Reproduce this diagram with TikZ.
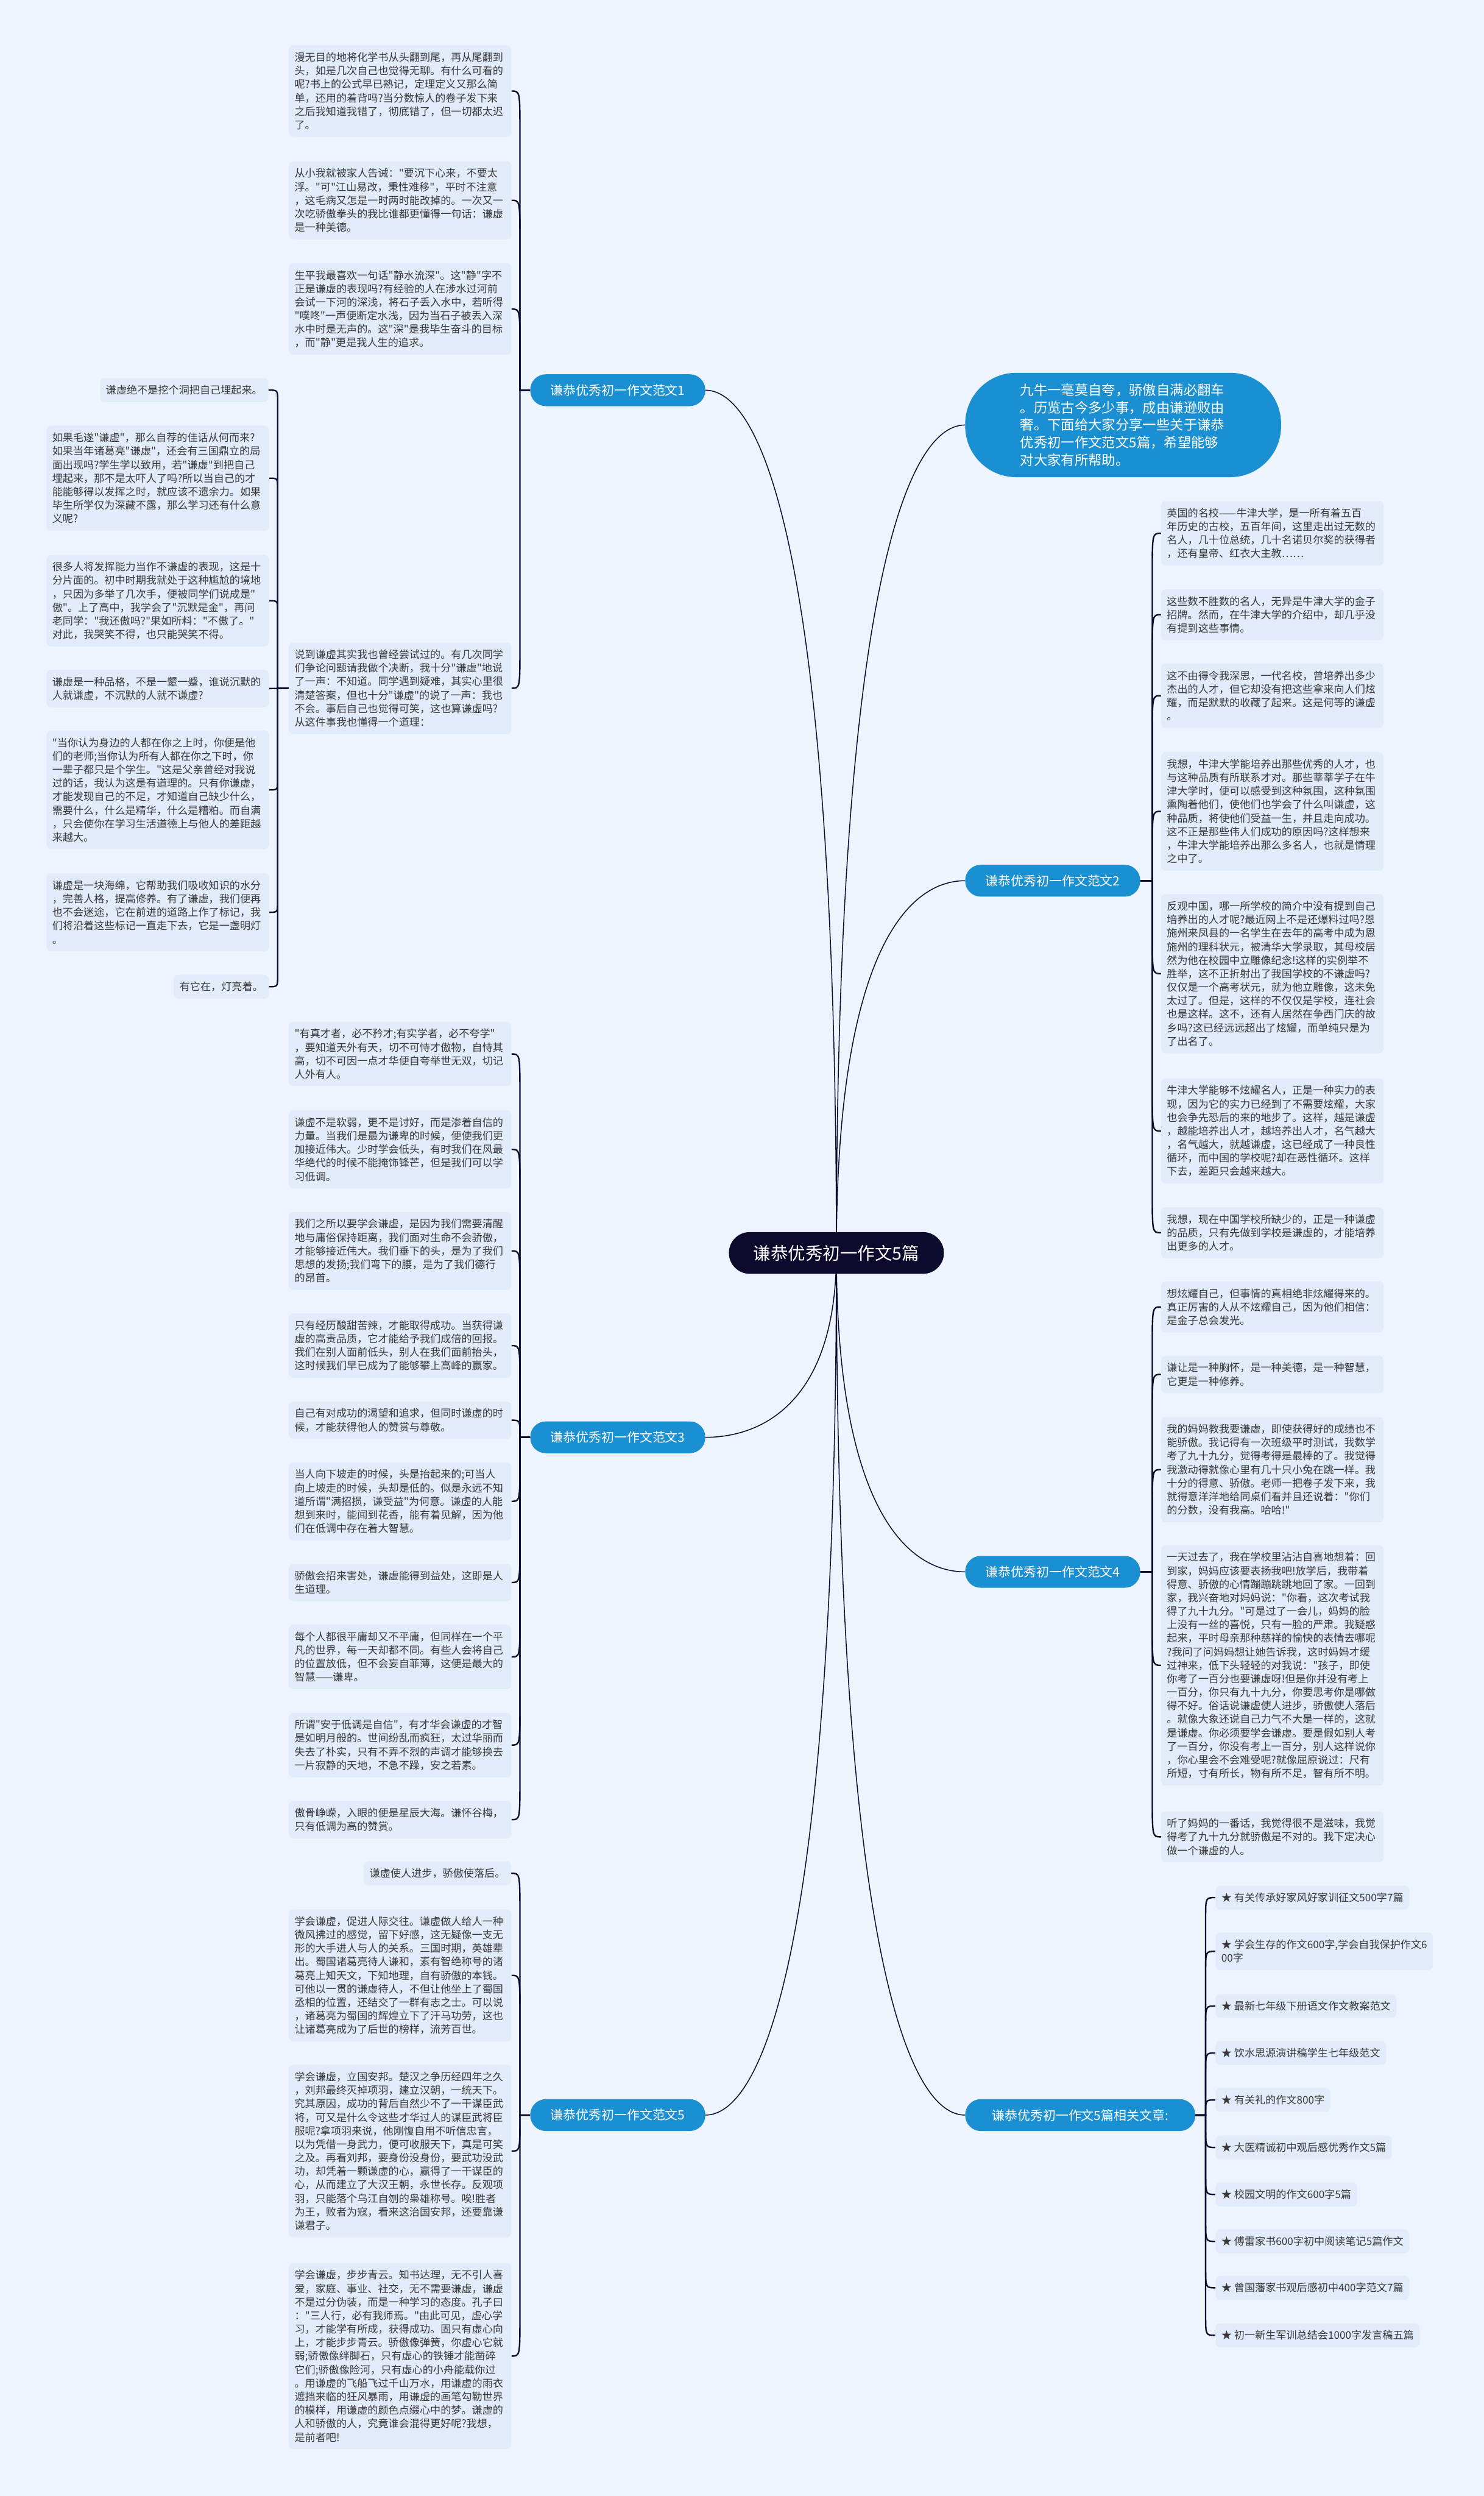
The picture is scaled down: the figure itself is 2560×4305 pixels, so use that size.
\documentclass[tikz,border=0pt]{standalone}
\usepackage{fontspec}
\setmainfont{Noto Sans CJK SC}
\newfontfamily\cjkf{Noto Sans CJK SC}
\usetikzlibrary{calc}
\definecolor{bgc}{RGB}{238,244,253}
\definecolor{boxc}{RGB}{226,235,250}
\definecolor{txtc}{RGB}{55,55,55}
\definecolor{brc}{RGB}{26,143,210}
\definecolor{rootc}{RGB}{12,10,45}
\definecolor{linec}{RGB}{14,12,46}
\pgfdeclarelayer{bgl}
\pgfsetlayers{bgl,main}
\newcommand\bx[5]{\node[txt,minimum height={23.3*#4+18}] (#1) at (#2,#3) {#5};}
\newcommand\cl[6]{\draw[cn] (#1.#2) -- (#3 |- #1.#2) -- ($(#3 |- #4.#5)+(0,#6)$) .. controls (#3 |- #4.#5) .. (#4.#5);}
\newcommand\mcurve[4]{\draw[mc] (root.center) .. controls ($(root.center)+(0,#3)$) and ($(#1)+(#4,0)$) .. (#1);}
\begin{document}
\begin{tikzpicture}[x=1pt,y=-1pt,
  txt/.style={fill=boxc, rounded corners=8pt, anchor=north west, align=left, text=txtc, font=\cjkf\fontsize{18}{23.3}\selectfont, inner xsep=10pt, inner ysep=4pt, text width=364pt},
  sbox/.style={fill=boxc, rounded corners=8pt, anchor=north east, text=txtc, font=\cjkf\fontsize{18}{23.3}\selectfont, inner xsep=10pt, inner ysep=4pt, minimum height=41.3pt},
  rbox/.style={fill=boxc, rounded corners=8pt, anchor=north west, align=left, text=txtc, font=\cjkf\fontsize{18}{23.3}\selectfont, inner xsep=10pt, inner ysep=4pt},
  brn/.style={fill=brc, text=white, rounded corners=27pt, minimum height=55pt, minimum width=302pt, font=\cjkf\fontsize{22}{26}\selectfont, inner xsep=20pt},
  cn/.style={draw=linec, line width=2.5pt},
  mc/.style={draw=linec, line width=1.6pt}]

% ---------- root, blurb and branches ----------
\node[fill=rootc, text=white, rounded corners=36pt, minimum width=371pt, minimum height=72pt, font=\cjkf\fontsize{30}{34}\selectfont] (root) at (1443,2161) {谦恭优秀初一作文5篇};
\node[fill=brc, text=white, rounded corners=88pt, anchor=west, minimum height=180pt, text width=355pt, inner xsep=95pt, align=left, font=\cjkf\fontsize{23.5}{30}\selectfont] (blurb) at (1665,733) {九牛一毫莫自夸，骄傲自满必翻车\\。历览古今多少事，成由谦逊败由\\奢。下面给大家分享一些关于谦恭\\优秀初一作文范文5篇，希望能够\\对大家有所帮助。};
\node[brn, anchor=east] (b1) at (1217,673) {谦恭优秀初一作文范文1};
\node[brn, anchor=west] (b2) at (1665,1519) {谦恭优秀初一作文范文2};
\node[brn, anchor=east] (b3) at (1217,2479) {谦恭优秀初一作文范文3};
\node[brn, anchor=west] (b4) at (1665,2711) {谦恭优秀初一作文范文4};
\node[brn, anchor=east] (b5) at (1217,3648) {谦恭优秀初一作文范文5};
\node[brn, anchor=west, minimum width=397pt] (rel) at (1665,3648) {谦恭优秀初一作文5篇相关文章:};

% ---------- section 1 ----------
\bx{a1}{498}{78}{6}{漫无目的地将化学书从头翻到尾，再从尾翻到\\头，如是几次自己也觉得无聊。有什么可看的\\呢?书上的公式早已熟记，定理定义又那么简\\单，还用的着背吗?当分数惊人的卷子发下来\\之后我知道我错了，彻底错了，但一切都太迟\\了。}
\bx{a2}{498}{278}{5}{从小我就被家人告诫："要沉下心来，不要太\\浮。"可"江山易改，秉性难移"，平时不注意\\，这毛病又怎是一时两时能改掉的。一次又一\\次吃骄傲拳头的我比谁都更懂得一句话：谦虚\\是一种美德。}
\bx{a3}{498}{454}{6}{生平我最喜欢一句话"静水流深"。这"静"字不\\正是谦虚的表现吗?有经验的人在涉水过河前\\会试一下河的深浅，将石子丢入水中，若听得\\"噗咚"一声便断定水浅，因为当石子被丢入深\\水中时是无声的。这"深"是我毕生奋斗的目标\\，而"静"更是我人生的追求。}
\bx{a4}{498}{1108}{6}{说到谦虚其实我也曾经尝试过的。有几次同学\\们争论问题请我做个决断，我十分"谦虚"地说\\了一声：不知道。同学遇到疑难，其实心里很\\清楚答案，但也十分"谦虚"的说了一声：我也\\不会。事后自己也觉得可笑，这也算谦虚吗?\\从这件事我也懂得一个道理：}

\node[sbox] (l1) at (463,652) {谦虚绝不是挖个洞把自己埋起来。};
\bx{l2}{80}{734}{7}{如果毛遂"谦虚"，那么自荐的佳话从何而来?\\如果当年诸葛亮"谦虚"，还会有三国鼎立的局\\面出现吗?学生学以致用，若"谦虚"到把自己\\埋起来，那不是太吓人了吗?所以当自己的才\\能能够得以发挥之时，就应该不遗余力。如果\\毕生所学仅为深藏不露，那么学习还有什么意\\义呢?}
\bx{l3}{80}{957}{6}{很多人将发挥能力当作不谦虚的表现，这是十\\分片面的。初中时期我就处于这种尴尬的境地\\，只因为多举了几次手，便被同学们说成是"\\傲"。上了高中，我学会了"沉默是金"，再问\\老同学："我还傲吗?"果如所料："不傲了。"\\对此，我哭笑不得，也只能哭笑不得。}
\bx{l4}{80}{1155}{2}{谦虚是一种品格，不是一颦一蹙，谁说沉默的\\人就谦虚，不沉默的人就不谦虚?}
\bx{l5}{80}{1260}{8}{"当你认为身边的人都在你之上时，你便是他\\们的老师;当你认为所有人都在你之下时，你\\一辈子都只是个学生。"这是父亲曾经对我说\\过的话，我认为这是有道理的。只有你谦虚，\\才能发现自己的不足，才知道自己缺少什么，\\需要什么，什么是精华，什么是糟粕。而自满\\，只会使你在学习生活道德上与他人的差距越\\来越大。}
\bx{l6}{80}{1506}{5}{谦虚是一块海绵，它帮助我们吸收知识的水分\\，完善人格，提高修养。有了谦虚，我们便再\\也不会迷途，它在前进的道路上作了标记，我\\们将沿着这些标记一直走下去，它是一盏明灯\\。}
\node[sbox] (l7) at (464,1681) {有它在，灯亮着。};

% ---------- section 3 ----------
\bx{c1}{498}{1762}{4}{"有真才者，必不矜才;有实学者，必不夸学"\\，要知道天外有天，切不可恃才傲物，自恃其\\高，切不可因一点才华便自夸举世无双，切记\\人外有人。}
\bx{c2}{498}{1915}{5}{谦虚不是软弱，更不是讨好，而是渗着自信的\\力量。当我们是最为谦卑的时候，便使我们更\\加接近伟大。少时学会低头，有时我们在风最\\华绝代的时候不能掩饰锋芒，但是我们可以学\\习低调。}
\bx{c3}{498}{2090}{5}{我们之所以要学会谦虚，是因为我们需要清醒\\地与庸俗保持距离，我们面对生命不会骄傲，\\才能够接近伟大。我们垂下的头，是为了我们\\思想的发扬;我们弯下的腰，是为了我们德行\\的昂首。}
\bx{c4}{498}{2265}{4}{只有经历酸甜苦辣，才能取得成功。当获得谦\\虚的高贵品质，它才能给予我们成倍的回报。\\我们在别人面前低头，别人在我们面前抬头，\\这时候我们早已成为了能够攀上高峰的赢家。}
\bx{c5}{498}{2417}{2}{自己有对成功的渴望和追求，但同时谦虚的时\\候，才能获得他人的赞赏与尊敬。}
\bx{c6}{498}{2522}{5}{当人向下坡走的时候，头是抬起来的;可当人\\向上坡走的时候，头却是低的。似是永远不知\\道所谓"满招损，谦受益"为何意。谦虚的人能\\想到来时，能闻到花香，能有着见解，因为他\\们在低调中存在着大智慧。}
\bx{c7}{498}{2697}{2}{骄傲会招来害处，谦虚能得到益处，这即是人\\生道理。}
\bx{c8}{498}{2802}{4}{每个人都很平庸却又不平庸，但同样在一个平\\凡的世界，每一天却都不同。有些人会将自己\\的位置放低，但不会妄自菲薄，这便是最大的\\智慧——谦卑。}
\bx{c9}{498}{2954}{4}{所谓"安于低调是自信"，有才华会谦虚的才智\\是如明月般的。世间纷乱而疯狂，太过华丽而\\失去了朴实，只有不弄不烈的声调才能够换去\\一片寂静的天地，不急不躁，安之若素。}
\bx{c10}{498}{3106}{2}{傲骨峥嵘，入眼的便是星辰大海。谦怀谷梅，\\只有低调为高的赞赏。}

% ---------- section 5 ----------
\node[sbox] (e1) at (882,3210) {谦虚使人进步，骄傲使落后。};
\bx{e2}{498}{3293}{9}{学会谦虚，促进人际交往。谦虚做人给人一种\\微风拂过的感觉，留下好感，这无疑像一支无\\形的大手进人与人的关系。三国时期，英雄辈\\出。蜀国诸葛亮待人谦和，素有智绝称号的诸\\葛亮上知天文，下知地理，自有骄傲的本钱。\\可他以一贯的谦虚待人，不但让他坐上了蜀国\\丞相的位置，还结交了一群有志之士。可以说\\，诸葛亮为蜀国的辉煌立下了汗马功劳，这也\\让诸葛亮成为了后世的榜样，流芳百世。}
\bx{e3}{498}{3561}{12}{学会谦虚，立国安邦。楚汉之争历经四年之久\\，刘邦最终灭掉项羽，建立汉朝，一统天下。\\究其原因，成功的背后自然少不了一干谋臣武\\将，可又是什么令这些才华过人的谋臣武将臣\\服呢?拿项羽来说，他刚愎自用不听信忠言，\\以为凭借一身武力，便可收服天下，真是可笑\\之及。再看刘邦，要身份没身份，要武功没武\\功，却凭着一颗谦虚的心，赢得了一干谋臣的\\心，从而建立了大汉王朝，永世长存。反观项\\羽，只能落个乌江自刎的枭雄称号。唉!胜者\\为王，败者为寇，看来这治国安邦，还要靠谦\\谦君子。}
\bx{e4}{498}{3903}{13}{学会谦虚，步步青云。知书达理，无不引人喜\\爱，家庭、事业、社交，无不需要谦虚，谦虚\\不是过分伪装，而是一种学习的态度。孔子曰\\："三人行，必有我师焉。"由此可见，虚心学\\习，才能学有所成，获得成功。固只有虚心向\\上，才能步步青云。骄傲像弹簧，你虚心它就\\弱;骄傲像绊脚石，只有虚心的铁锤才能凿碎\\它们;骄傲像险河，只有虚心的小舟能载你过\\。用谦虚的飞船飞过千山万水，用谦虚的雨衣\\遮挡来临的狂风暴雨，用谦虚的画笔勾勒世界\\的模样，用谦虚的颜色点缀心中的梦。谦虚的\\人和骄傲的人，究竟谁会混得更好呢?我想，\\是前者吧!}

% ---------- section 2 ----------
\bx{r1}{2003}{864}{4}{英国的名校——牛津大学，是一所有着五百\\年历史的古校，五百年间，这里走出过无数的\\名人，几十位总统，几十名诺贝尔奖的获得者\\，还有皇帝、红衣大主教……}
\bx{r2}{2003}{1016}{3}{这些数不胜数的名人，无异是牛津大学的金子\\招牌。然而，在牛津大学的介绍中，却几乎没\\有提到这些事情。}
\bx{r3}{2003}{1144}{4}{这不由得令我深思，一代名校，曾培养出多少\\杰出的人才，但它却没有把这些拿来向人们炫\\耀，而是默默的收藏了起来。这是何等的谦虚\\。}
\bx{r4}{2003}{1297}{8}{我想，牛津大学能培养出那些优秀的人才，也\\与这种品质有所联系才对。那些莘莘学子在牛\\津大学时，便可以感受到这种氛围，这种氛围\\熏陶着他们，使他们也学会了什么叫谦虚，这\\种品质，将使他们受益一生，并且走向成功。\\这不正是那些伟人们成功的原因吗?这样想来\\，牛津大学能培养出那么多名人，也就是情理\\之中了。}
\bx{r5}{2003}{1542}{11}{反观中国，哪一所学校的简介中没有提到自己\\培养出的人才呢?最近网上不是还爆料过吗?恩\\施州来凤县的一名学生在去年的高考中成为恩\\施州的理科状元，被清华大学录取，其母校居\\然为他在校园中立雕像纪念!这样的实例举不\\胜举，这不正折射出了我国学校的不谦虚吗?\\仅仅是一个高考状元，就为他立雕像，这未免\\太过了。但是，这样的不仅仅是学校，连社会\\也是这样。这不，还有人居然在争西门庆的故\\乡吗?这已经远远超出了炫耀，而单纯只是为\\了出名了。}
\bx{r6}{2003}{1860}{7}{牛津大学能够不炫耀名人，正是一种实力的表\\现，因为它的实力已经到了不需要炫耀，大家\\也会争先恐后的来的地步了。这样，越是谦虚\\，越能培养出人才，越培养出人才，名气越大\\，名气越大，就越谦虚，这已经成了一种良性\\循环，而中国的学校呢?却在恶性循环。这样\\下去，差距只会越来越大。}
\bx{r7}{2003}{2082}{3}{我想，现在中国学校所缺少的，正是一种谦虚\\的品质，只有先做到学校是谦虚的，才能培养\\出更多的人才。}

% ---------- section 4 ----------
\bx{f1}{2003}{2210}{3}{想炫耀自己，但事情的真相绝非炫耀得来的。\\真正厉害的人从不炫耀自己，因为他们相信：\\是金子总会发光。}
\bx{f2}{2003}{2338}{2}{谦让是一种胸怀，是一种美德，是一种智慧，\\它更是一种修养。}
\bx{f3}{2003}{2444}{7}{我的妈妈教我要谦虚，即使获得好的成绩也不\\能骄傲。我记得有一次班级平时测试，我数学\\考了九十九分，觉得考得是最棒的了。我觉得\\我激动得就像心里有几十只小兔在跳一样。我\\十分的得意、骄傲。老师一把卷子发下来，我\\就得意洋洋地给同桌们看并且还说着："你们\\的分数，没有我高。哈哈!"}
\bx{f4}{2003}{2665}{17}{一天过去了，我在学校里沾沾自喜地想着：回\\到家，妈妈应该要表扬我吧!放学后，我带着\\得意、骄傲的心情蹦蹦跳跳地回了家。一回到\\家，我兴奋地对妈妈说："你看，这次考试我\\得了九十九分。"可是过了一会儿，妈妈的脸\\上没有一丝的喜悦，只有一脸的严肃。我疑惑\\起来，平时母亲那种慈祥的愉快的表情去哪呢\\?我问了问妈妈想让她告诉我，这时妈妈才缓\\过神来，低下头轻轻的对我说："孩子，即使\\你考了一百分也要谦虚呀!但是你并没有考上\\一百分，你只有九十九分，你要思考你是哪做\\得不好。俗话说谦虚使人进步，骄傲使人落后\\。就像大象还说自己力气不大是一样的，这就\\是谦虚。你必须要学会谦虚。要是假如别人考\\了一百分，你没有考上一百分，别人这样说你\\，你心里会不会难受呢?就像屈原说过：尺有\\所短，寸有所长，物有所不足，智有所不明。}
\bx{f5}{2003}{3124}{3}{听了妈妈的一番话，我觉得很不是滋味，我觉\\得考了九十九分就骄傲是不对的。我下定决心\\做一个谦虚的人。}

% ---------- related articles ----------
\node[rbox, minimum height=41.3pt] (q1) at (2097,3252) {★ 有关传承好家风好家训征文500字7篇};
\node[rbox, minimum height=64.6pt] (q2) at (2097,3333) {★ 学会生存的作文600字,学会自我保护作文6\\00字};
\node[rbox, minimum height=41.3pt] (q3) at (2097,3439) {★ 最新七年级下册语文作文教案范文};
\node[rbox, minimum height=41.3pt] (q4) at (2097,3520) {★ 饮水思源演讲稿学生七年级范文};
\node[rbox, minimum height=41.3pt] (q5) at (2097,3601) {★ 有关礼的作文800字};
\node[rbox, minimum height=41.3pt] (q6) at (2097,3683) {★ 大医精诚初中观后感优秀作文5篇};
\node[rbox, minimum height=41.3pt] (q7) at (2097,3764) {★ 校园文明的作文600字5篇};
\node[rbox, minimum height=41.3pt] (q8) at (2097,3845) {★ 傅雷家书600字初中阅读笔记5篇作文};
\node[rbox, minimum height=41.3pt] (q9) at (2097,3925) {★ 曾国藩家书观后感初中400字范文7篇};
\node[rbox, minimum height=41.3pt] (q10) at (2097,4007) {★ 初一新生军训总结会1000字发言稿五篇};

% trunk coordinates
\coordinate (tL) at (897,0);
\coordinate (tC) at (479,0);
\coordinate (tR) at (1988,0);
\coordinate (tQ) at (2080,0);

\begin{pgfonlayer}{bgl}
\fill[bgc] (0,0) rectangle (2560,4305);
% root to branches
\mcurve{b1.east}{}{-1190}{100}
\mcurve{b3.east}{}{255}{100}
\mcurve{b5.east}{}{1190}{100}
\mcurve{blurb.west}{}{-1140}{-100}
\mcurve{b2.west}{}{-515}{-100}
\mcurve{b4.west}{}{440}{-100}
\mcurve{rel.west}{}{1190}{-100}
% section 1
\cl{b1}{west}{tL}{a1}{east}{70}
\cl{b1}{west}{tL}{a2}{east}{70}
\cl{b1}{west}{tL}{a3}{east}{70}
\cl{b1}{west}{tL}{a4}{east}{-70}
\cl{a4}{west}{tC}{l1}{east}{18}
\cl{a4}{west}{tC}{l2}{east}{18}
\cl{a4}{west}{tC}{l3}{east}{18}
\draw[cn] (a4.west) -- (l4.east);
\cl{a4}{west}{tC}{l5}{east}{-18}
\cl{a4}{west}{tC}{l6}{east}{-18}
\cl{a4}{west}{tC}{l7}{east}{-18}
% section 3
\cl{b3}{west}{tL}{c1}{east}{70}
\cl{b3}{west}{tL}{c2}{east}{70}
\cl{b3}{west}{tL}{c3}{east}{70}
\cl{b3}{west}{tL}{c4}{east}{70}
\cl{b3}{west}{tL}{c5}{east}{25}
\cl{b3}{west}{tL}{c6}{east}{-70}
\cl{b3}{west}{tL}{c7}{east}{-70}
\cl{b3}{west}{tL}{c8}{east}{-70}
\cl{b3}{west}{tL}{c9}{east}{-70}
\cl{b3}{west}{tL}{c10}{east}{-70}
% section 5
\cl{b5}{west}{tL}{e1}{east}{70}
\cl{b5}{west}{tL}{e2}{east}{70}
\cl{b5}{west}{tL}{e3}{east}{-55}
\cl{b5}{west}{tL}{e4}{east}{-70}
% section 2
\cl{b2}{east}{tR}{r1}{west}{70}
\cl{b2}{east}{tR}{r2}{west}{70}
\cl{b2}{east}{tR}{r3}{west}{70}
\cl{b2}{east}{tR}{r4}{west}{70}
\cl{b2}{east}{tR}{r5}{west}{-70}
\cl{b2}{east}{tR}{r6}{west}{-70}
\cl{b2}{east}{tR}{r7}{west}{-70}
% section 4
\cl{b4}{east}{tR}{f1}{west}{70}
\cl{b4}{east}{tR}{f2}{west}{70}
\cl{b4}{east}{tR}{f3}{west}{70}
\cl{b4}{east}{tR}{f4}{west}{-70}
\cl{b4}{east}{tR}{f5}{west}{-70}
% related
\cl{rel}{east}{tQ}{q1}{west}{35}
\cl{rel}{east}{tQ}{q2}{west}{35}
\cl{rel}{east}{tQ}{q3}{west}{35}
\cl{rel}{east}{tQ}{q4}{west}{35}
\cl{rel}{east}{tQ}{q5}{west}{22}
\cl{rel}{east}{tQ}{q6}{west}{-35}
\cl{rel}{east}{tQ}{q7}{west}{-35}
\cl{rel}{east}{tQ}{q8}{west}{-35}
\cl{rel}{east}{tQ}{q9}{west}{-35}
\cl{rel}{east}{tQ}{q10}{west}{-35}
\end{pgfonlayer}
\end{tikzpicture}
\end{document}
